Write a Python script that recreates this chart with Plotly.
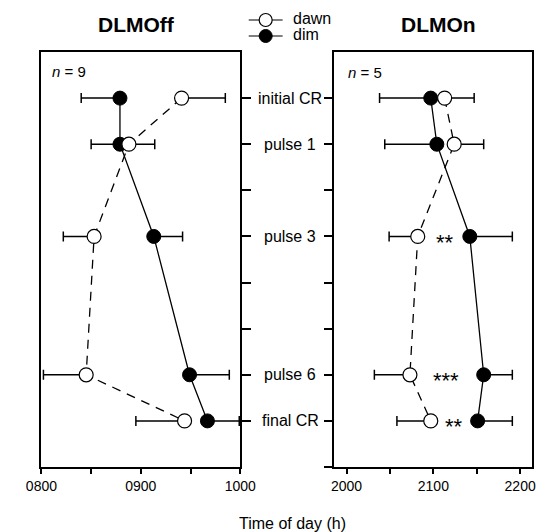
import plotly.graph_objects as go

W, H = 553, 532
FONT = "Liberation Sans, Arial, Helvetica, sans-serif"

# ---- data -------------------------------------------------------------
row_labels = ["initial CR", "pulse 1", "pulse 3", "pulse 6", "final CR"]
row_pos = [0, 1, 3, 6, 7]          # rows 2, 4 and 5 are unlabelled ticks

# DLMOff, clock time (HHMM scale)
off_dawn = [941, 888, 853, 845, 944]
off_dawn_plus = [44, 26, 0, 0, 0]
off_dawn_minus = [0, 0, 31, 43, 49]
off_dim = [879, 879, 913, 949, 967]
off_dim_plus = [0, 0, 29, 40, 32]
off_dim_minus = [39, 29, 0, 0, 0]

# DLMOn, clock time (HHMM scale)
on_dawn = [2113, 2124, 2082, 2073, 2097]
on_dawn_plus = [34, 34, 0, 0, 0]
on_dawn_minus = [0, 0, 33, 41, 39]
on_dim = [2097, 2104, 2142, 2158, 2151]
on_dim_plus = [0, 0, 49, 33, 40]
on_dim_minus = [59, 60, 0, 0, 0]

# significance marks in the DLMOn panel
sig_text = ["**", "***", "**"]
sig_x = [2113, 2115, 2124]
sig_row = [3, 6, 7]

off_ticks = [800, 850, 900, 950, 1000]
off_ticktext = ["0800", "", "0900", "", "1000"]
on_ticks = [2000, 2050, 2100, 2150, 2200]
on_ticktext = ["2000", "", "2100", "", "2200"]


def px_x(p):
    return p / W


def px_y(p):
    return 1 - p / H


fig = go.Figure()


def add_panel(xa, ya, dawn, dp, dm, dim, mp, mm):
    # connecting lines first so the markers sit on top
    fig.add_trace(go.Scatter(x=dim, y=row_pos, mode="lines", xaxis=xa, yaxis=ya,
                             line=dict(color="black", width=1.3), showlegend=False,
                             hoverinfo="skip"))
    fig.add_trace(go.Scatter(x=dawn, y=row_pos, mode="lines", xaxis=xa, yaxis=ya,
                             line=dict(color="black", width=1.3, dash="9px,7px"),
                             showlegend=False, hoverinfo="skip"))
    err = dict(type="data", symmetric=False, color="black", thickness=1.5, width=5)
    fig.add_trace(go.Scatter(x=dim, y=row_pos, mode="markers", xaxis=xa, yaxis=ya,
                             marker=dict(size=14, color="black",
                                         line=dict(color="black", width=1)),
                             error_x=dict(err, array=mp, arrayminus=mm),
                             showlegend=False))
    fig.add_trace(go.Scatter(x=dawn, y=row_pos, mode="markers", xaxis=xa, yaxis=ya,
                             marker=dict(size=14, color="white",
                                         line=dict(color="black", width=1.2)),
                             error_x=dict(err, array=dp, arrayminus=dm),
                             showlegend=False))


add_panel("x", "y", off_dawn, off_dawn_plus, off_dawn_minus,
          off_dim, off_dim_plus, off_dim_minus)
add_panel("x2", "y2", on_dawn, on_dawn_plus, on_dawn_minus,
          on_dim, on_dim_plus, on_dim_minus)

# hand-drawn key (pixel-space overlay axes)
fig.add_trace(go.Scatter(x=[247, 283], y=[20, 20], mode="lines", xaxis="x3", yaxis="y3",
                         line=dict(color="black", width=1.2), showlegend=False,
                         hoverinfo="skip"))
fig.add_trace(go.Scatter(x=[247, 283], y=[36, 36], mode="lines", xaxis="x3", yaxis="y3",
                         line=dict(color="black", width=1.2), showlegend=False,
                         hoverinfo="skip"))
fig.add_trace(go.Scatter(x=[265], y=[20], mode="markers", xaxis="x3", yaxis="y3",
                         marker=dict(size=13, color="white", line=dict(color="black", width=1.2)),
                         showlegend=False, hoverinfo="skip"))
fig.add_trace(go.Scatter(x=[265], y=[36], mode="markers", xaxis="x3", yaxis="y3",
                         marker=dict(size=13, color="black", line=dict(color="black", width=1)),
                         showlegend=False, hoverinfo="skip"))

y_dom = [px_y(467), px_y(52)]
axis_common = dict(showgrid=False, zeroline=False, showline=True, linecolor="black",
                   linewidth=1.5, mirror=True, tickcolor="black", tickwidth=1.5,
                   tickfont=dict(family=FONT, size=14, color="black"))

fig.update_layout(
    width=W, height=H,
    margin=dict(l=0, r=0, t=0, b=0),
    paper_bgcolor="white", plot_bgcolor="rgba(0,0,0,0)",
    xaxis=dict(axis_common, domain=[px_x(27), px_x(238)], range=[800, 1000],
               tickvals=off_ticks, ticktext=off_ticktext, ticks="outside", ticklen=5,
               anchor="y"),
    yaxis=dict(axis_common, domain=y_dom, range=[8, -1], tickvals=list(range(8)),
               ticktext=[""] * 8, side="right", ticks="outside", ticklen=9,
               anchor="x"),
    xaxis2=dict(axis_common, domain=[px_x(338), px_x(548)], range=[1986, 2214],
                tickvals=on_ticks, ticktext=on_ticktext, ticks="outside", ticklen=5,
                anchor="y2"),
    yaxis2=dict(axis_common, domain=y_dom, range=[8, -1], tickvals=list(range(9)),
                showticklabels=False, side="left", ticks="outside", ticklen=9,
                anchor="x2"),
    xaxis3=dict(domain=[0, 1], range=[0, W], visible=False, fixedrange=True),
    yaxis3=dict(domain=[0, 1], range=[H, 0], visible=False, fixedrange=True,
                anchor="x3"),
    showlegend=False,
)


def label(text, x, y, size, xanchor="center", **kw):
    d = dict(text=text, x=x, y=y, xref="paper", yref="paper", xanchor=xanchor,
             yanchor="middle", showarrow=False,
             font=dict(family=FONT, size=size, color="black"))
    d.update(kw)
    return d


ann = [
    label("<b>DLMOff</b>", px_x(128), px_y(24), 21),
    label("<b>DLMOn</b>", px_x(448), px_y(24), 21),
    label("<i>n</i> = 9", px_x(36), px_y(71), 15, xanchor="left"),
    label("<i>n</i> = 5", px_x(350), px_y(72), 15, xanchor="left"),
    label("dawn", px_x(292), px_y(19), 16, xanchor="left"),
    label("dim", px_x(292), px_y(35), 16, xanchor="left"),
    label("Time of day (h)", px_x(293), px_y(523), 16),
]
for lab, pos in zip(row_labels, row_pos):
    ann.append(label(lab, px_x(291), pos, 16, yref="y"))
for t, xv, r in zip(sig_text, sig_x, sig_row):
    ann.append(dict(text=t, x=xv, y=r, xref="x2", yref="y2", xanchor="center",
                    yanchor="middle", yshift=-6, showarrow=False,
                    font=dict(family=FONT, size=22, color="black")))
fig.update_layout(annotations=ann)

fig.write_html("out.html")
